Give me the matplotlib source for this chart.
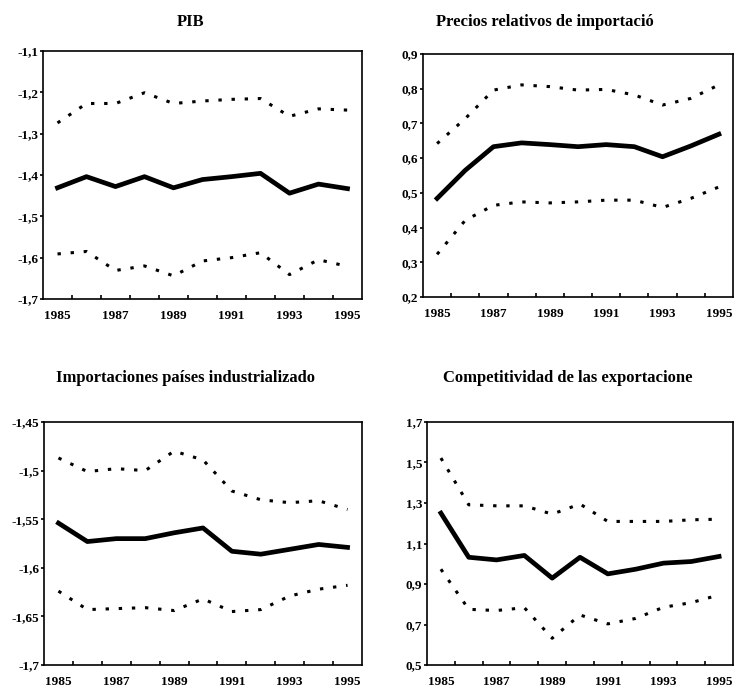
import matplotlib
matplotlib.use('Agg')
import matplotlib.pyplot as plt
import numpy as np

plt.rcParams['font.family'] = ['Liberation Serif', 'DejaVu Serif']
plt.rcParams['font.weight'] = 'bold'

years = np.arange(1985, 1996)

# PIB
pib_mid = [-1.431, -1.404, -1.428, -1.404, -1.431, -1.411, -1.404, -1.396, -1.444, -1.422, -1.433]
pib_up = [-1.274, -1.227, -1.227, -1.201, -1.227, -1.221, -1.217, -1.215, -1.258, -1.240, -1.243]
pib_lo = [-1.591, -1.585, -1.631, -1.620, -1.644, -1.608, -1.600, -1.588, -1.641, -1.605, -1.621]

# Precios relativos de importacion
pre_mid = [0.484, 0.565, 0.633, 0.644, 0.639, 0.633, 0.639, 0.633, 0.604, 0.635, 0.669]
pre_up = [0.642, 0.714, 0.796, 0.811, 0.806, 0.796, 0.798, 0.782, 0.753, 0.772, 0.811]
pre_lo = [0.323, 0.421, 0.464, 0.474, 0.471, 0.474, 0.479, 0.479, 0.458, 0.484, 0.517]

# Importaciones paises industrializados
imp_mid = [-1.554, -1.573, -1.570, -1.570, -1.564, -1.559, -1.583, -1.586, -1.581, -1.576, -1.579]
imp_up = [-1.487, -1.501, -1.498, -1.500, -1.480, -1.489, -1.521, -1.530, -1.533, -1.531, -1.540]
imp_lo = [-1.624, -1.643, -1.642, -1.641, -1.644, -1.632, -1.645, -1.643, -1.629, -1.622, -1.618]

# Competitividad de las exportaciones
com_mid = [1.250, 1.032, 1.019, 1.041, 0.929, 1.032, 0.950, 0.973, 1.003, 1.011, 1.036]
com_up = [1.522, 1.291, 1.286, 1.286, 1.245, 1.295, 1.209, 1.209, 1.209, 1.217, 1.220]
com_lo = [0.973, 0.775, 0.769, 0.783, 0.632, 0.747, 0.703, 0.730, 0.785, 0.808, 0.846]

titles = ['PIB', 'Precios relativos de importació',
          'Importaciones países industrializado', 'Competitividad de las exportacione']
yticks = [[-1.1, -1.2, -1.3, -1.4, -1.5, -1.6, -1.7],
          [0.9, 0.8, 0.7, 0.6, 0.5, 0.4, 0.3, 0.2],
          [-1.45, -1.5, -1.55, -1.6, -1.65, -1.7],
          [1.7, 1.5, 1.3, 1.1, 0.9, 0.7, 0.5]]
ylabels = [['-1,1', '-1,2', '-1,3', '-1,4', '-1,5', '-1,6', '-1,7'],
           ['0,9', '0,8', '0,7', '0,6', '0,5', '0,4', '0,3', '0,2'],
           ['-1,45', '-1,5', '-1,55', '-1,6', '-1,65', '-1,7'],
           ['1,7', '1,5', '1,3', '1,1', '0,9', '0,7', '0,5']]
series = [(pib_mid, pib_up, pib_lo), (pre_mid, pre_up, pre_lo),
          (imp_mid, imp_up, imp_lo), (com_mid, com_up, com_lo)]

W, H = 735, 690
# axes boxes in pixels: left, top, right, bottom
boxes = [(43, 51, 362, 299), (423, 54, 733, 297), (44, 422, 362, 665), (427, 422, 733, 665)]
title_pos = [(191, 22), (545, 22), (185, 378), (568, 378)]

fig = plt.figure(figsize=(W / 100, H / 100), dpi=100)

for i in range(4):
    l, t, r, b = boxes[i]
    ax = fig.add_axes([l / W, 1 - b / H, (r - l) / W, (b - t) / H])
    mid, up, lo = series[i]
    ax.plot(years, mid, color='black', lw=3.4, solid_joinstyle='round')
    ax.plot(years, up, color='black', lw=2.2, linestyle=(0, (1.1, 3.2)))
    ax.plot(years, lo, color='black', lw=2.2, linestyle=(0, (1.1, 3.2)))
    ax.set_xlim(1984.5, 1995.5)
    ax.set_ylim(min(yticks[i]), max(yticks[i]))
    ax.set_yticks(yticks[i])
    ax.set_yticklabels(ylabels[i])
    ax.set_xticks(years[::2])
    ax.set_xticks(np.arange(1985.5, 1995, 1), minor=True)
    ax.tick_params(axis='x', which='major', length=0, pad=8, labelsize=9.5)
    ax.tick_params(axis='x', which='minor', direction='in', length=3, width=1.2)
    ax.tick_params(axis='y', direction='out', length=2.5, width=1.2, pad=1, labelsize=9.5)
    for s in ax.spines.values():
        s.set_linewidth(1.2)
    fig.text(title_pos[i][0] / W, 1 - title_pos[i][1] / H, titles[i],
             ha='center', va='center', fontsize=12, fontweight='bold')

plt.savefig('out.png', dpi=100)
